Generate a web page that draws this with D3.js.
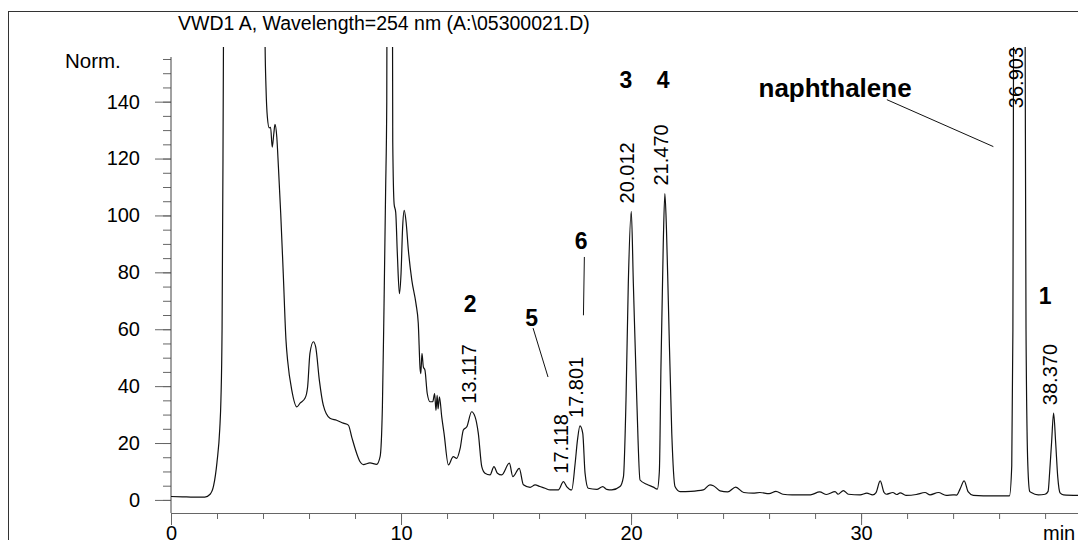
<!DOCTYPE html>
<html>
<head>
<meta charset="utf-8">
<script src="https://cdn.jsdelivr.net/npm/d3@7"></script>
<style>
  body { margin: 0; background: #fff; }
  svg { display: block; font-family: "Liberation Sans", Arial, Helvetica, sans-serif; }
  .axis text { font-size: 20px; fill: #000; }
  .axis line { stroke: #666; }
</style>
</head>
<body>
<svg id="chart" width="1078" height="540"></svg>
<script>
// retention time (min) and detector signal (mAU, "Norm.")
const times = [
  0.0, 0.5, 1.0, 1.47, 1.7, 1.85, 2.0, 2.12, 2.17, 2.22, 2.26, 2.3, 3.2, 4.05, 4.09,
  4.13, 4.19, 4.27, 4.33, 4.40, 4.47, 4.52, 4.60, 4.67, 4.77, 4.88, 5.00, 5.07, 5.25, 5.47,
  5.61, 5.83, 5.94, 6.04, 6.19, 6.29, 6.45, 6.62, 6.91, 7.2, 7.49, 7.71, 7.86, 8.07, 8.22,
  8.36, 8.65, 8.94, 9.09, 9.19, 9.26, 9.33, 9.38, 9.42, 9.5, 9.6, 9.64, 9.70, 9.77, 9.84,
  9.93, 10.0, 10.07, 10.14, 10.22, 10.32, 10.47, 10.65, 10.75, 10.83, 10.86, 10.91, 10.97, 11.04, 11.14,
  11.26, 11.38, 11.46, 11.52, 11.57, 11.61, 11.67, 11.77, 11.87, 12.06, 12.27, 12.42, 12.57, 12.71, 12.86,
  13.07, 13.22, 13.36, 13.51, 13.65, 13.87, 14.04, 14.19, 14.38, 14.71, 14.86, 15.14, 15.32, 15.61, 15.83,
  16.04, 16.26, 16.48, 16.84, 17.06, 17.2, 17.42, 17.57, 17.67, 17.78, 17.9, 18.0, 18.14, 18.51, 18.77,
  18.94, 19.16, 19.52, 19.67, 19.78, 19.88, 20.01, 20.1, 20.25, 20.39, 20.68, 20.97, 21.14, 21.23, 21.3,
  21.4, 21.47, 21.54, 21.62, 21.77, 21.91, 22.13, 22.6, 23.14, 23.43, 23.58, 23.87, 24.2, 24.55, 24.9,
  25.3, 25.6, 26.0, 26.3, 26.6, 27.0, 27.8, 28.2, 28.5, 28.87, 29.0, 29.23, 29.45, 29.96, 30.25,
  30.5, 30.65, 30.83, 31.0, 31.1, 31.38, 31.55, 31.7, 31.95, 32.4, 32.78, 33.0, 33.36, 33.7, 34.0,
  34.15, 34.3, 34.48, 34.66, 34.88, 35.75, 36.45, 36.55, 36.6, 36.63, 36.903, 37.13, 37.17, 37.25, 37.33,
  37.4, 37.7, 38.0, 38.13, 38.2, 38.28, 38.37, 38.46, 38.55, 38.65, 38.8, 39.43
];
const signal = [
  1.2, 1.1, 1.0, 1.0, 2.0, 4.9, 13.3, 25, 35, 60, 120, 200, 1500, 200, 160,
  145, 134.5, 130.8, 131, 124, 128.8, 132, 127.5, 117, 100.6, 79.6, 56, 49, 38.6, 32.7,
  34, 35.8, 39.8, 51.5, 55.6, 53.8, 42, 33.3, 28.7, 28, 27, 26.3, 22, 16.4, 13.4,
  12.4, 13, 12.5, 15.2, 32.7, 67.8, 108.8, 140, 300, 700, 300, 126, 104, 101, 86.5,
  72.5, 79.5, 95.9, 101.8, 97.7, 87.7, 77.2, 69, 62, 46, 44.4, 51.5, 46.8, 45.6, 37.4,
  34.5, 34.5, 37.4, 31.5, 36.8, 32, 36.2, 29.2, 23.4, 12.3, 15.2, 14.6, 18.1, 24.6, 25.7,
  31, 29.2, 23.4, 11.7, 9.4, 8.8, 11.7, 9.4, 8.8, 12.9, 8.2, 11.1, 5.3, 4.4, 5.3,
  4.7, 4.1, 3.5, 3.5, 6.4, 4.7, 3.5, 12.9, 21, 26, 23.4, 9.4, 4.1, 3.7, 4.7,
  3.7, 3.5, 4.7, 8.2, 35, 76, 101.4, 76, 35, 7, 5.5, 4.5, 3.8, 10, 46.8,
  90, 107.7, 95, 70, 23.4, 4.7, 2.9, 3.0, 3.5, 5.3, 5.0, 3.2, 2.8, 4.5, 2.6,
  2.4, 2.6, 2.2, 3.0, 2.0, 1.8, 1.8, 2.8, 1.9, 2.9, 2.0, 3.3, 2.0, 1.8, 2.4,
  1.8, 2.6, 6.7, 2.6, 2.0, 2.6, 1.9, 2.5, 1.6, 1.9, 2.6, 1.8, 2.6, 1.6, 1.8,
  1.7, 3.8, 6.7, 2.8, 1.6, 1.4, 1.4, 12, 60, 170, 800, 170, 60, 12, 3,
  2.6, 1.8, 2.0, 3.0, 10, 20, 30.5, 20, 8, 2.5, 1.8, 1.6
];

// integrated peaks: retention time and apex height
const peakRT = [13.117, 17.118, 17.801, 20.012, 21.470, 36.903, 38.370];
const peakHeight = [31, 6.4, 26, 101.4, 107.7, 800, 30.5];

const xMajorTicks = [0, 10, 20, 30];
const yMajorTicks = [0, 20, 40, 60, 80, 100, 120, 140];

// compound names, placed in data units
const compoundNames = ['2', '5', '6', '3', '4', 'naphthalene', '1'];
const compoundAt = [[13.0, 69], [15.68, 64], [17.83, 91.2], [19.78, 147.6], [21.4, 147.6], [28.87, 145], [38.0, 71.9]];
const leaders = [
  [[15.74, 60.4], [16.39, 43.2]],
  [[17.97, 85.4], [17.93, 64.9]],
  [[31.12, 140.7], [35.75, 124.2]]
];

const svg = d3.select('#chart');

const x = d3.scaleLinear().domain([0, 39.43]).range([171, 1078]);
const y = d3.scaleLinear().domain([-4.6, 155.7]).range([513, 57]);

// outer frame of the printout
svg.append('rect')
  .attr('x', 8.5).attr('y', 11.5)
  .attr('width', 1100).attr('height', 600)
  .attr('fill', 'none').attr('stroke', '#333');

svg.append('text')
  .attr('x', 178).attr('y', 30)
  .style('font-size', '19.5px')
  .text('VWD1 A, Wavelength=254 nm (A:\\05300021.D)');

svg.append('text')
  .attr('x', 65).attr('y', 68)
  .style('font-size', '20.5px')
  .text('Norm.');

// y axis: minor ticks every 5, labelled ticks every 20
svg.append('g').attr('class', 'axis')
  .attr('transform', 'translate(171,0)')
  .call(d3.axisLeft(y).tickValues(d3.range(0, 156, 5)).tickSize(8).tickFormat(''))
  .call(g => g.select('.domain').remove());

svg.append('g').attr('class', 'axis')
  .attr('transform', 'translate(171,0)')
  .call(d3.axisLeft(y).tickValues(yMajorTicks).tickSize(16).tickPadding(15))
  .call(g => g.select('.domain').remove());

// x axis: minor ticks every 2 min
svg.append('g').attr('class', 'axis')
  .attr('transform', 'translate(0,513)')
  .call(d3.axisBottom(x).tickValues(d3.range(0, 40, 2)).tickSize(6).tickFormat(''))
  .call(g => g.select('.domain').remove());

svg.append('g').attr('class', 'axis')
  .attr('transform', 'translate(0,513)')
  .call(d3.axisBottom(x).tickValues(xMajorTicks).tickSize(12).tickPadding(1))
  .call(g => g.select('.domain').remove());

svg.append('line')
  .attr('x1', 171).attr('x2', 171).attr('y1', 57).attr('y2', 513)
  .attr('stroke', '#444');
svg.append('line')
  .attr('x1', 171).attr('x2', 1078).attr('y1', 513.5).attr('y2', 513.5)
  .attr('stroke', '#666');

svg.append('text')
  .attr('x', 1043).attr('y', 540)
  .style('font-size', '20px')
  .text('min');

// signal trace, clipped at the top of the plot
svg.append('clipPath').attr('id', 'plot-clip')
  .append('rect').attr('x', 171).attr('y', 47).attr('width', 907).attr('height', 466);

const trace = times.map((t, i) => ({ t: t, v: signal[i] }));
const line = d3.line().curve(d3.curveMonotoneX).x(d => x(d.t)).y(d => y(d.v));

svg.append('path')
  .datum(trace)
  .attr('clip-path', 'url(#plot-clip)')
  .attr('fill', 'none')
  .attr('stroke', '#111')
  .attr('stroke-width', 1.2)
  .attr('stroke-linejoin', 'round')
  .attr('d', line);

// retention time labels above each peak
svg.selectAll('.rt')
  .data(peakRT)
  .enter().append('text')
  .attr('class', 'rt')
  .style('font-size', '20px')
  .attr('text-anchor', (d, i) => peakHeight[i] > 155 ? 'end' : 'start')
  .attr('transform', (d, i) => {
    const px = x(d) + 3;
    const py = peakHeight[i] > 155 ? 47 : y(peakHeight[i]) - 8;
    return `translate(${px},${py}) rotate(-90)`;
  })
  .text(d => d.toFixed(3));

// compound annotations
svg.selectAll('.cmp')
  .data(compoundNames)
  .enter().append('text')
  .attr('class', 'cmp')
  .attr('x', (d, i) => x(compoundAt[i][0]))
  .attr('y', (d, i) => y(compoundAt[i][1]))
  .attr('dy', '0.36em')
  .attr('text-anchor', 'middle')
  .style('font-weight', 'bold')
  .style('font-size', d => d.length > 1 ? '26px' : '23px')
  .text(d => d);

svg.selectAll('.leader')
  .data(leaders)
  .enter().append('line')
  .attr('x1', d => x(d[0][0])).attr('y1', d => y(d[0][1]))
  .attr('x2', d => x(d[1][0])).attr('y2', d => y(d[1][1]))
  .attr('stroke', '#111');
</script>
</body>
</html>
